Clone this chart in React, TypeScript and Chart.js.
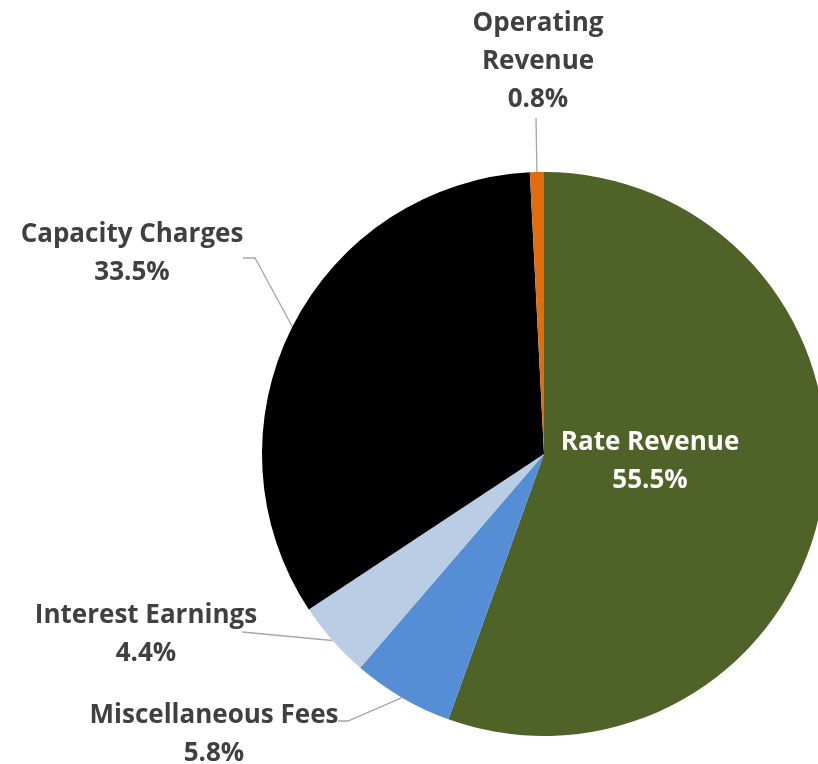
import React, { useEffect, useRef } from "react";
import { Chart, registerables } from "chart.js";

Chart.register(...registerables);

const categories = ["Rate Revenue", "Miscellaneous Fees", "Interest Earnings", "Capacity Charges", "Operating Revenue"];
const values = [55.5, 5.8, 4.4, 33.5, 0.8];
const percentLabels = ["55.5%", "5.8%", "4.4%", "33.5%", "0.8%"];
const colors = ["#4F6228", "#558ED5", "#B9CDE5", "#000000", "#E46C0A"];

// label styling / placement (style, not data)
const FONT = "bold 26px 'Open Sans', Lato, sans-serif";
const LINE_H = 38;
const TEXT_DY = 2;
const labelLayout: Record<string, { lines: string[]; x: number; y: number; color: string; leader?: number[][] }> = {
  "Rate Revenue": { lines: ["Rate Revenue"], x: 650, y: 441, color: "#FFFFFF" },
  "Miscellaneous Fees": { lines: ["Miscellaneous Fees"], x: 214, y: 714, color: "#404040", leader: [[338, 721], [348, 721]] },
  "Interest Earnings": { lines: ["Interest Earnings"], x: 146, y: 614, color: "#404040", leader: [[242, 632]] },
  "Capacity Charges": { lines: ["Capacity Charges"], x: 132, y: 233, color: "#404040", leader: [[243, 258], [255, 258]] },
  "Operating Revenue": { lines: ["Operating", "Revenue"], x: 538, y: 22, color: "#404040", leader: [[536, 118]] },
};

const labelPlugin = {
  id: "pieLabels",
  afterDraw(chart: any) {
    const ctx = chart.ctx;
    const meta = chart.getDatasetMeta(0);
    ctx.save();
    meta.data.forEach((arc: any, i: number) => {
      const p = arc.getProps(["x", "y", "startAngle", "endAngle", "outerRadius"], true);
      const cat = categories[i];
      const lay = labelLayout[cat];
      const mid = (p.startAngle + p.endAngle) / 2;
      const ax = p.x + Math.cos(mid) * p.outerRadius;
      const ay = p.y + Math.sin(mid) * p.outerRadius;
      if (lay.leader) {
        ctx.beginPath();
        ctx.strokeStyle = "#A6A6A6";
        ctx.lineWidth = 1.3;
        ctx.moveTo(lay.leader[0][0], lay.leader[0][1]);
        for (let k = 1; k < lay.leader.length; k++) ctx.lineTo(lay.leader[k][0], lay.leader[k][1]);
        ctx.lineTo(ax, ay);
        ctx.stroke();
      }
      ctx.fillStyle = lay.color;
      ctx.font = FONT;
      ctx.textAlign = "center";
      ctx.textBaseline = "middle";
      const lines = [...lay.lines, percentLabels[i]];
      lines.forEach((t, k) => ctx.fillText(t, lay.x, lay.y + TEXT_DY + k * LINE_H));
    });
    ctx.restore();
  },
};

export default function App() {
  const ref = useRef<HTMLCanvasElement>(null);
  useEffect(() => {
    document.body.style.margin = "0";
    const chart = new Chart(ref.current!, {
      type: "pie",
      data: {
        labels: categories,
        datasets: [{ data: values, backgroundColor: colors, borderWidth: 0, hoverOffset: 0 }],
      },
      options: {
        responsive: false,
        animation: false,
        layout: { padding: { left: 262, right: 24, top: 172, bottom: 28 } },
        plugins: { legend: { display: false }, tooltip: { enabled: false } },
      },
      plugins: [labelPlugin],
    });
    return () => chart.destroy();
  }, []);
  return (
    <div style={{ position: "absolute", left: 0, top: 0, width: 818, height: 764, overflow: "hidden", background: "#fff" }}>
      <canvas ref={ref} width={850} height={764} />
    </div>
  );
}
